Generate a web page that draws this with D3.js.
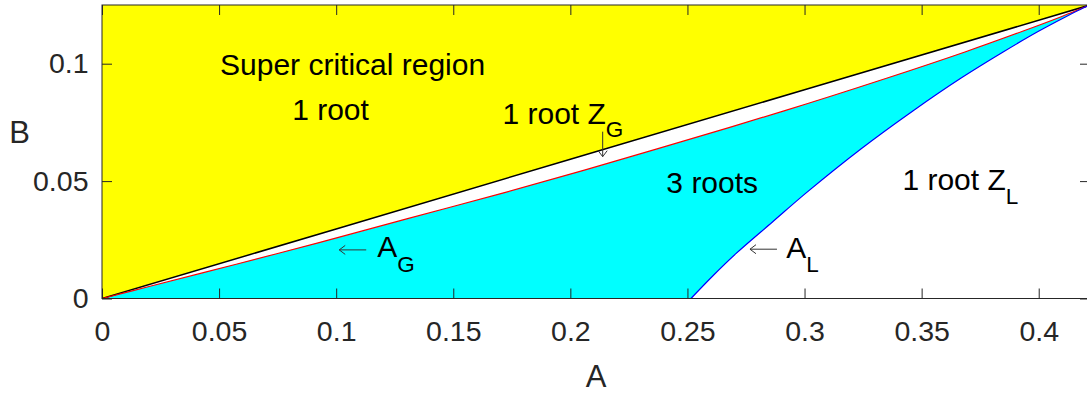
<!DOCTYPE html>
<html>
<head>
<meta charset="utf-8">
<script src="https://cdn.jsdelivr.net/npm/d3@7"></script>
<style>
  html, body { margin: 0; padding: 0; background: #ffffff; }
  svg { display: block; }
  text { font-family: "Liberation Sans", Arial, Helvetica, sans-serif; }
</style>
</head>
<body>
<svg id="chart" width="1087" height="393"></svg>
<script>
// Root-count regions of the van der Waals cubic in the (A, B) plane.

// Critical point where all boundaries meet
const criticalA = 0.4219;
const criticalB = 0.125;

// Upper edge of the one-root Z_G band (black)
const zgLineA = [0, 0.1, 0.2, 0.3, 0.4219];
const zgLineB = [0, 0.0296, 0.0593, 0.0889, 0.125];

// A_G branch of the discriminant curve (red)
const agA = [0, 0.0197, 0.0573, 0.0927, 0.1305, 0.1715, 0.2060, 0.2374, 0.2916, 0.3350, 0.3685, 0.3931, 0.4096, 0.4189, 0.4219];
const agB = [0, 0.0050, 0.0146, 0.0238, 0.0340, 0.0450, 0.0547, 0.0638, 0.0800, 0.0938, 0.1050, 0.1138, 0.1200, 0.1238, 0.125];

// A_L branch of the discriminant curve (blue)
const alA = [0.2515, 0.2610, 0.2708, 0.2863, 0.3007, 0.3242, 0.3464, 0.3667, 0.3848, 0.3999, 0.4116, 0.4192, 0.4219];
const alB = [0, 0.0098, 0.0192, 0.0326, 0.0450, 0.0638, 0.0800, 0.0938, 0.1050, 0.1138, 0.1200, 0.1238, 0.125];

// Axis ticks
const xTicks = [0, 0.05, 0.1, 0.15, 0.2, 0.25, 0.3, 0.35, 0.4];
const xTickLabels = ["0", "0.05", "0.1", "0.15", "0.2", "0.25", "0.3", "0.35", "0.4"];
const yTicks = [0, 0.05, 0.1];
const yTickLabels = ["0", "0.05", "0.1"];

// Region captions placed in data units (left edge, baseline)
const captionText = ["Super critical region", "1 root", "3 roots"];
const captionA = [0.0504, 0.0812, 0.2410];
const captionB = [0.0950, 0.0762, 0.0448];

const svg = d3.select("#chart");
const plotLeft = 102, plotRight = 1090, plotTop = 5, plotBottom = 298.5;

const x = d3.scaleLinear().domain([0, criticalA]).range([plotLeft, plotRight]);
const y = d3.scaleLinear().domain([0, criticalB]).range([plotBottom, plotTop]);

const axisColor = "#262626";

svg.append("defs").append("clipPath").attr("id", "plotClip")
  .append("rect").attr("x", plotLeft).attr("y", plotTop)
  .attr("width", plotRight - plotLeft).attr("height", plotBottom - plotTop);

const plot = svg.append("g").attr("clip-path", "url(#plotClip)");

const pts = (as, bs) => as.map((a, i) => [a, bs[i]]);
const line = d3.line().x(d => x(d[0])).y(d => y(d[1]));
const smooth = d3.line().x(d => x(d[0])).y(d => y(d[1])).curve(d3.curveCatmullRom.alpha(0.5));

const zgPts = pts(zgLineA, zgLineB);
const agPts = pts(agA, agB);
const alPts = pts(alA, alB);

// Yellow: everything above the Z_G line (supercritical, one root)
const yellowPts = [[0, criticalB]].concat(zgPts);
plot.append("path")
  .attr("d", line(yellowPts) + "Z")
  .attr("fill", "#ffff00");

// Cyan: three real roots, between the A_G and A_L branches
const cyanPath = smooth(agPts) + smooth(alPts.slice().reverse()).replace(/^M/, "L") + "Z";
plot.append("path")
  .attr("d", cyanPath)
  .attr("fill", "#00ffff");

// Boundary curves
plot.append("path").attr("d", line(zgPts))
  .attr("fill", "none").attr("stroke", "#000000").attr("stroke-width", 1.5);
plot.append("path").attr("d", smooth(agPts))
  .attr("fill", "none").attr("stroke", "#ff0000").attr("stroke-width", 1.2);
plot.append("path").attr("d", smooth(alPts))
  .attr("fill", "none").attr("stroke", "#0000ff").attr("stroke-width", 1.2);

// Axes with inward ticks on all four sides
const tickLen = 10;
const xAxis = d3.axisBottom(x).tickValues(xTicks)
  .tickFormat((d, i) => xTickLabels[i]).tickSizeInner(-tickLen).tickSizeOuter(0).tickPadding(22);
const yAxis = d3.axisLeft(y).tickValues(yTicks)
  .tickFormat((d, i) => yTickLabels[i]).tickSizeInner(-tickLen).tickSizeOuter(0).tickPadding(13.5);
const xAxisTop = d3.axisTop(x).tickValues(xTicks).tickFormat("").tickSizeInner(-tickLen).tickSizeOuter(0);
const yAxisRight = d3.axisRight(y).tickValues(yTicks).tickFormat("").tickSizeInner(-tickLen).tickSizeOuter(0);

function styleAxis(g) {
  g.select(".domain").remove();
  g.selectAll(".tick line").attr("stroke", axisColor).attr("stroke-width", 1);
  g.selectAll(".tick text").attr("fill", axisColor)
    .style("font-family", "'Liberation Sans', Arial, Helvetica, sans-serif")
    .style("font-size", "28.5px");
}

svg.append("g").attr("transform", `translate(0,${plotBottom})`).call(xAxis).call(styleAxis);
svg.append("g").attr("transform", `translate(${plotLeft},0)`).call(yAxis).call(styleAxis);
svg.append("g").attr("transform", `translate(0,${plotTop})`).call(xAxisTop).call(styleAxis);
svg.append("g").attr("transform", `translate(${plotRight},0)`).call(yAxisRight).call(styleAxis);

// Axes box
svg.append("rect")
  .attr("x", plotLeft).attr("y", plotTop)
  .attr("width", plotRight - plotLeft).attr("height", plotBottom - plotTop)
  .attr("fill", "none").attr("stroke", axisColor).attr("stroke-width", 1);

// Axis titles
svg.append("text").attr("x", (plotLeft + plotRight) / 2).attr("y", 386.5)
  .attr("text-anchor", "middle").attr("fill", axisColor)
  .style("font-size", "31px").text("A");
svg.append("text").attr("x", 19.5).attr("y", 142.5)
  .attr("text-anchor", "middle").attr("fill", axisColor)
  .style("font-size", "31px").text("B");

// Region captions
const fs = 30, subFs = 22.5;
captionText.forEach((t, i) => {
  svg.append("text").attr("x", x(captionA[i])).attr("y", y(captionB[i]))
    .attr("fill", "#000").style("font-size", fs + "px").text(t);
});

// Captions with a subscript
function subCaption(a, b, main, sub, subDy) {
  const t = svg.append("text").attr("x", x(a)).attr("y", y(b))
    .attr("fill", "#000").style("font-size", fs + "px");
  t.append("tspan").text(main);
  t.append("tspan").attr("dy", subDy).style("font-size", subFs + "px").text(sub);
  return t;
}
subCaption(0.1710, 0.0745, "1 root Z", "G", 13.5);
subCaption(0.3418, 0.0462, "1 root Z", "L", 13.5);
subCaption(0.1175, 0.0178, "A", "G", 15);
subCaption(0.2922, 0.0171, "A", "L", 13.5);

// Thin pointer arrows
const arrowColor = "#333333";
function leftArrow(a, b, len) {
  const x0 = x(a), y0 = y(b);
  svg.append("path")
    .attr("d", `M${x0 + len},${y0}H${x0}M${x0 + 6},${y0 - 4.5}L${x0},${y0}L${x0 + 6},${y0 + 4.5}`)
    .attr("fill", "none").attr("stroke", arrowColor).attr("stroke-width", 1);
}
function downArrow(a, b, len) {
  const x0 = x(a), y0 = y(b);
  svg.append("path")
    .attr("d", `M${x0},${y0 - len}V${y0}M${x0 - 4.5},${y0 - 6}L${x0},${y0}L${x0 + 4.5},${y0 - 6}`)
    .attr("fill", "none").attr("stroke", arrowColor).attr("stroke-width", 1);
}
leftArrow(0.1013, 0.0207, 27);
leftArrow(0.2767, 0.0210, 27);
downArrow(0.2138, 0.0604, 25);
</script>
</body>
</html>
